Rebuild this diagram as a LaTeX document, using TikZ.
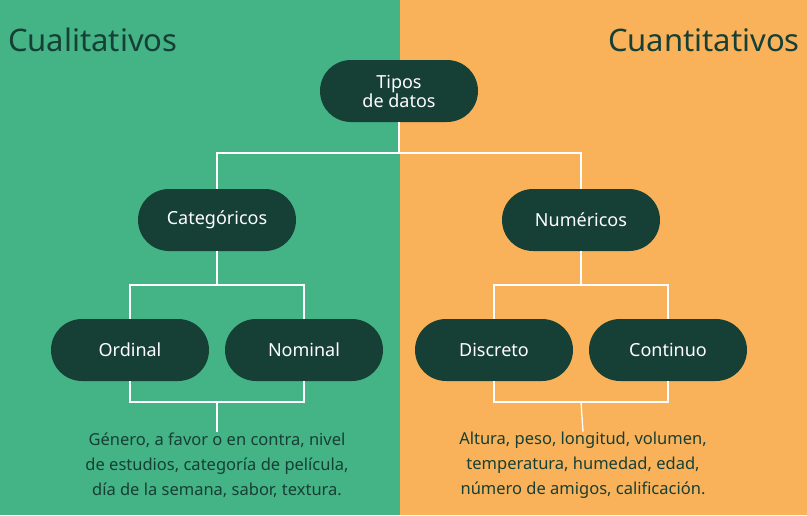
\documentclass[tikz,border=0pt]{standalone}
\usepackage{fontspec}
\setmainfont{Noto Sans}
\definecolor{gleft}{HTML}{44B385}
\definecolor{oright}{HTML}{F9B259}
\definecolor{dark}{HTML}{163F35}
\begin{document}
\begin{tikzpicture}[x=1pt,y=-1pt,
  pill/.style={fill=dark,rounded corners=31pt,minimum width=158pt,minimum height=62pt,text=white,font=\bfseries\fontsize{18}{22}\selectfont,align=center,inner sep=0pt},
  conn/.style={draw=white,line width=1.3pt},
  title/.style={text=dark,font=\bfseries\fontsize{31}{36}\selectfont,inner sep=0pt},
  ex/.style={text=dark,font=\bfseries\fontsize{16.5}{25}\selectfont,align=center,inner sep=0pt}]
\useasboundingbox (0,0) rectangle (807,515);
\fill[gleft] (0,0) rectangle (400,515);
\fill[oright] (400,0) rectangle (807,515);
\node[title,anchor=west] (tl) at (8,40) {Cualitativos};
\node[title,anchor=east] (tr) at (800,40) {Cuantitativos};
\coordinate (t1) at (399,153);
\coordinate (cl) at (217,153);
\coordinate (cr) at (581,153);
\node[pill] (tipos) at (399,91) {Tipos\\[-3pt]de datos};
\node[pill] (cat) at (217,220) {Categóricos};
\node[pill] (num) at (581,220) {Numéricos};
\node[pill] (ord) at (130,350) {Ordinal};
\node[pill] (nom) at (304,350) {Nominal};
\node[pill] (dis) at (494,350) {Discreto};
\node[pill] (con) at (668,350) {Continuo};
\draw[conn] (tipos.south) -- (t1);
\draw[conn] (cat.north) |- (cr) -- (num.north);
\draw[conn] (cat.south) -- (217,285);
\draw[conn] (ord.north) |- (304,285) -- (nom.north);
\draw[conn] (num.south) -- (581,285);
\draw[conn] (dis.north) |- (668,285) -- (con.north);
\draw[conn] (ord.south) |- (304,402) -- (nom.south);
\draw[conn] (dis.south) |- (668,402) -- (con.south);
\node[ex] (exl) at (217,465) {Género, a favor o en contra, nivel\\de estudios, categoría de película,\\día de la semana, sabor, textura.};
\node[ex] (exr) at (583,465) {Altura, peso, longitud, volumen,\\temperatura, humedad, edad,\\número de amigos, calificación.};
\draw[conn] (217,402) -- (exl.north);
\draw[conn] (581,402) -- (exr.north);
\end{tikzpicture}
\end{document}
